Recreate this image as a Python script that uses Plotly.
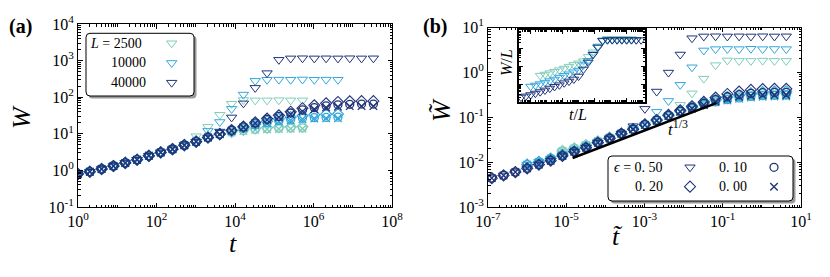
import plotly.graph_objects as go

FIG_W, FIG_H = 830, 277
PAGE_OFFSET = 8  # default page margin of the html body


def fx(x):
    return (x - PAGE_OFFSET) / FIG_W


def fy(y):
    return 1 - (y - PAGE_OFFSET) / FIG_H


# ---------------- data ----------------
T = [1, 2, 4, 8, 16, 32, 64, 128, 256, 512, 1024, 2048, 4096, 8192, 16384,
     32768, 65536, 131072, 262144, 524288, 1048576, 2097152, 4194304,
     8388608, 16777216, 33554432]

L_VALUES = [2500, 10000, 40000]
EPS_KEYS = ["0.50", "0.20", "0.10", "0.00"]

# common early-time values of W (all series overlap), t = T[0..12]
EARLY = [0.80, 0.92, 1.09, 1.32, 1.60, 1.96, 2.50, 3.10, 3.80, 4.90, 6.10, 7.90, 9.80]

# L = 2500
W_L2500_E050 = [0.80, 0.92, 1.09, 1.32, 1.60, 1.96, 2.50, 3.10, 3.80, 5.0,
                8.6, 15.5, 33, 66, 84, 82, 82, 83, 82, 82]
W_L2500_E020 = EARLY + [11.3, 12.8, 14.0, 14.8, 15.2, 15.5, 15.6]
W_L2500_E010 = EARLY + [11.0, 12.3, 13.2, 13.8, 14.2, 14.4, 14.5]
W_L2500_E000 = EARLY + [10.8, 12.0, 12.8, 13.3, 13.6, 13.8, 13.8]

# L = 10000
W_L10000_E050 = EARLY[:11] + [12, 21, 48, 118, 280, 300, 302, 300, 305, 300, 302, 300]
W_L10000_E020 = EARLY + [12.4, 15.0, 18.5, 22, 25.5, 28.5, 31, 33, 34, 34.5]
W_L10000_E010 = EARLY + [12.2, 14.5, 17.5, 20, 22.5, 24.5, 26.5, 27.5, 28, 28.5]
W_L10000_E000 = EARLY + [12.0, 14.2, 17.0, 19.5, 21.5, 23.5, 25, 26, 26.5, 26.5]

# L = 40000
W_L40000_E050 = EARLY[:12] + [11.5, 28, 68, 180, 455, 1050, 1150, 1160, 1150,
                              1155, 1150, 1160, 1150, 1155]
W_L40000_E020 = EARLY + [12.6, 15.8, 20.5, 26, 32, 40, 50, 60, 68, 74, 77, 78, 78]
W_L40000_E010 = EARLY + [12.5, 15.5, 20, 25, 30, 37, 45, 52, 58, 62, 64, 65, 65]
W_L40000_E000 = EARLY + [12.3, 15.2, 19.5, 24, 28.5, 34, 41, 47, 52, 55, 57, 57, 57]

SERIES = {
    2500: {"0.50": W_L2500_E050, "0.20": W_L2500_E020, "0.10": W_L2500_E010, "0.00": W_L2500_E000},
    10000: {"0.50": W_L10000_E050, "0.20": W_L10000_E020, "0.10": W_L10000_E010, "0.00": W_L10000_E000},
    40000: {"0.50": W_L40000_E050, "0.20": W_L40000_E020, "0.10": W_L40000_E010, "0.00": W_L40000_E000},
}

# rescaling used in panel (b): t~ = t / L^1.5 , W~ = W_SCALE * W / L^0.5
T_EXP = 1.5
W_EXP = 0.5
W_SCALE = 1.1

# t^(1/3) guide line
GUIDE_T = [1.45e-5, 0.068]
GUIDE_AMP = 0.505
GUIDE_EXP = 1.0 / 3.0

L_LABELS = ["<i>L</i> = 2500", "10000", "40000"]
EPS_LABELS = {"0.50": "<i>ϵ</i> = 0. 50", "0.20": "0. 20", "0.10": "0. 10", "0.00": "0. 00"}

A_XTICK_EXP = [0, 2, 4, 6, 8]
A_YTICK_EXP = [-1, 0, 1, 2, 3, 4]
B_XTICK_EXP = [-7, -5, -3, -1, 1]
B_YTICK_EXP = [-3, -2, -1, 0, 1]

# ---------------- style ----------------
COLORS = {2500: "#7fcdbb", 10000: "#33a6da", 40000: "#213479"}
SYMBOLS = {"0.50": "triangle-down-open", "0.20": "diamond-open", "0.10": "circle-open", "0.00": "x-thin-open"}
SIZES = {"0.50": 9, "0.20": 8.5, "0.10": 8, "0.00": 7.5}
LWS = {"0.50": 1.0, "0.20": 1.1, "0.10": 1.3, "0.00": 1.4}
FONT = "Liberation Serif, DejaVu Serif, serif"

fig = go.Figure()

for L in L_VALUES:
    for eps in EPS_KEYS:
        w = SERIES[L][eps]
        t = T[:len(w)]
        c = COLORS[L]
        mk = dict(symbol=SYMBOLS[eps], size=SIZES[eps], color=c, line=dict(color=c, width=LWS[eps]))
        # panel (a)
        fig.add_trace(go.Scatter(
            x=t, y=w, mode="markers", marker=mk, xaxis="x", yaxis="y",
            name=" ", showlegend=(eps == "0.50"), legend="legend"))
        # panel (b)
        tt = [ti / L ** T_EXP for ti in t]
        ww = [W_SCALE * wi / L ** W_EXP for wi in w]
        fig.add_trace(go.Scatter(
            x=tt, y=ww, mode="markers", marker=mk, xaxis="x2", yaxis="y2",
            name=" ", showlegend=(L == 40000),
            legend=("legend2" if eps in ("0.50", "0.20") else "legend3")))

# guide line t^(1/3)
fig.add_trace(go.Scatter(
    x=GUIDE_T, y=[GUIDE_AMP * ti ** GUIDE_EXP for ti in GUIDE_T], mode="lines",
    line=dict(color="black", width=2.6), xaxis="x2", yaxis="y2", showlegend=False))

# inset: W/L vs t/L for eps = 0.50
for L in L_VALUES:
    w = SERIES[L]["0.50"]
    t = T[:len(w)]
    c = COLORS[L]
    fig.add_trace(go.Scatter(
        x=[ti / L for ti in t], y=[wi / L for wi in w], mode="markers",
        marker=dict(symbol="triangle-down-open", size=8.5, color=c, line=dict(color=c, width=1)),
        xaxis="x3", yaxis="y3", showlegend=False))


def minor_vals(d0, d1, major_exps):
    vals = [m * 10.0 ** d for d in range(d0, d1) for m in range(2, 10)]
    vals += [10.0 ** d for d in range(d0, d1 + 1) if d not in major_exps]
    return vals


def log_axis(domain, rng, exps, anchor, d0, d1, labels=True, lw=1.0):
    return dict(
        type="log", domain=domain, range=rng, anchor=anchor,
        tickmode="array", tickvals=[10.0 ** e for e in exps],
        ticktext=[f"10<sup>{e}</sup>" for e in exps],
        showticklabels=labels, automargin=False,
        ticks="inside", ticklen=4.5, tickwidth=0.8, tickcolor="black",
        mirror="allticks", showline=True, linecolor="black", linewidth=lw,
        showgrid=False, zeroline=False,
        tickfont=dict(family=FONT, size=16, color="black"),
        minor=dict(tickmode="array", tickvals=minor_vals(d0, d1, exps), ticks="inside", ticklen=2.5,
                   tickwidth=0.6, tickcolor="black", showgrid=False),
    )


fig.update_layout(
    width=FIG_W, height=FIG_H, margin=dict(l=0, r=0, t=0, b=0, pad=0, autoexpand=False),
    paper_bgcolor="white", plot_bgcolor="white",
    font=dict(family=FONT, color="black"),
    xaxis=log_axis([fx(78), fx(392)], [0, 8], A_XTICK_EXP, "y", 0, 8),
    yaxis=log_axis([fy(207), fy(24)], [-1, 4], A_YTICK_EXP, "x", -1, 4),
    xaxis2=log_axis([fx(488), fx(801)], [-7, 1], B_XTICK_EXP, "y2", -7, 1),
    yaxis2=log_axis([fy(207), fy(27.5)], [-3, 1], B_YTICK_EXP, "x2", -3, 1),
    xaxis3=log_axis([fx(519), fx(645)], [-4.725, 3.17], [-4, -2, 0, 2], "y3", -5, 4, labels=False, lw=1.6),
    yaxis3=log_axis([fy(102), fy(30)], [-4.955, -0.99], [-4, -3, -2, -1], "x3", -5, 0, labels=False, lw=1.6),
    legend=dict(x=fx(151.7), y=fy(28.4), xanchor="left", yanchor="top", bgcolor="rgba(0,0,0,0)",
                borderwidth=0, font=dict(size=12.85), itemsizing="trace", tracegroupgap=0),
    legend2=dict(x=fx(670), y=fy(152.6), xanchor="left", yanchor="top", bgcolor="rgba(0,0,0,0)",
                 borderwidth=0, font=dict(size=12.6), itemsizing="trace", tracegroupgap=0),
    legend3=dict(x=fx(754), y=fy(152.6), xanchor="left", yanchor="top", bgcolor="rgba(0,0,0,0)",
                 borderwidth=0, font=dict(size=12.6), itemsizing="trace", tracegroupgap=0),
)


def rounded_box(x0, y0, x1, y1, r=4):
    pts = [
        f"M {fx(x0 + r)},{fy(y0)}", f"L {fx(x1 - r)},{fy(y0)}", f"Q {fx(x1)},{fy(y0)} {fx(x1)},{fy(y0 + r)}",
        f"L {fx(x1)},{fy(y1 - r)}", f"Q {fx(x1)},{fy(y1)} {fx(x1 - r)},{fy(y1)}",
        f"L {fx(x0 + r)},{fy(y1)}", f"Q {fx(x0)},{fy(y1)} {fx(x0)},{fy(y1 - r)}",
        f"L {fx(x0)},{fy(y0 + r)}", f"Q {fx(x0)},{fy(y0)} {fx(x0 + r)},{fy(y0)}", "Z",
    ]
    return " ".join(pts)


shapes = []
for (x0, y0, x1, y1) in [(86, 33.3, 194, 96), (608, 156, 793, 201)]:
    shapes.append(dict(type="path", xref="paper", yref="paper", layer="above",
                       path=rounded_box(x0 + 2.5, y0 + 2.5, x1 + 2.5, y1 + 2.5),
                       fillcolor="#9a9a9a", line=dict(width=0)))
    shapes.append(dict(type="path", xref="paper", yref="paper", layer="above",
                       path=rounded_box(x0, y0, x1, y1),
                       fillcolor="white", line=dict(color="black", width=1)))
fig.update_layout(shapes=shapes)


def ann(x, y, text, size, xanchor="center", angle=0):
    return dict(x=fx(x), y=fy(y), xref="paper", yref="paper", text=text, showarrow=False,
                xanchor=xanchor, yanchor="middle", textangle=angle,
                font=dict(family=FONT, size=size, color="black"))


annotations = [
    ann(20.5, 27, "<b>(a)</b>", 20),
    ann(435, 27, "<b>(b)</b>", 20),
    ann(233, 243, "<i>t</i>", 26),
    ann(21, 117, "<i>W</i>", 26, angle=-90),
    ann(617, 236, "<i>t̃</i>", 26),
    ann(441, 110, "<i>W̃</i>", 26, angle=-90),
    ann(507, 63, "<i>W</i>/<i>L</i>", 16, angle=-90),
    ann(578, 115, "<i>t</i>/<i>L</i>", 16),
    ann(678, 128, "<i>t</i><sup>1/3</sup>", 17),
    ann(116, 43.3, L_LABELS[0], 14),
    ann(128.5, 63, L_LABELS[1], 14),
    ann(128.5, 82.7, L_LABELS[2], 14),
    ann(638, 167.3, EPS_LABELS["0.50"], 14),
    ann(732.5, 167.3, EPS_LABELS["0.10"], 14),
    ann(649, 186.7, EPS_LABELS["0.20"], 14),
    ann(732.5, 186.7, EPS_LABELS["0.00"], 14),
]
fig.update_layout(annotations=annotations)

fig.write_html("out.html")
